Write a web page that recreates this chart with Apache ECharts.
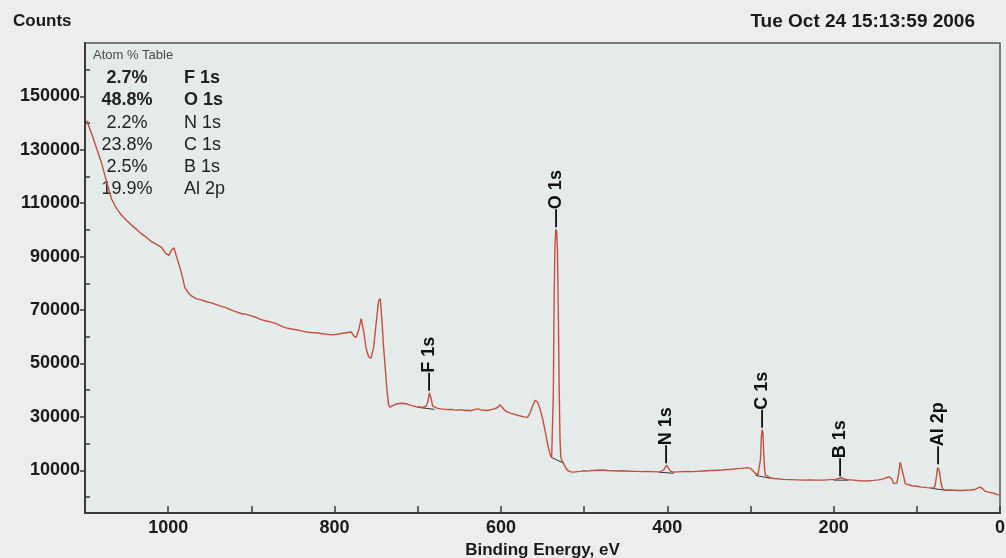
<!DOCTYPE html>
<html><head><meta charset="utf-8">
<script src="https://cdn.jsdelivr.net/npm/echarts@6/dist/echarts.min.js"></script>
<style>html,body{margin:0;padding:0;background:#eceeee;}#c{width:1006px;height:558px;}</style>
</head><body><div id="c"></div>
<script>
// Binding energy (eV) and counts of the survey spectrum
const energy = [1098,1092,1086,1080,1074,1068,1062,1056,1050,1044,1038,1032,1026,1020,1014,1008,1003,999,996,993,990,986,983,980,976,972,966,960,954,948,942,936,930,924,918,912,906,900,894,888,882,876,870,864,858,852,846,840,834,828,822,816,810,804,798,792,786,780,777,774,771,768,765,762,759,756,753,750,747,745,743,741,739,737,735,733,730,726,722,718,714,710,706,702,698,694,690,688,686,684,682,680,676,672,668,664,660,656,652,648,644,640,636,632,628,624,620,616,612,608,604,601,598,595,592,588,584,580,576,572,568,565,562,559,556,553,550,547,544,541,539,538,537,536,535,534,533,532,531,530,529,528,527,526,524,522,520,516,512,508,504,500,496,490,484,478,472,466,460,454,448,442,436,430,424,418,412,408,404,401,399,396,392,388,382,376,370,364,358,352,346,340,334,328,322,316,310,304,300,297,294,291,289,288,287,286,285,284,283,282,280,276,272,268,260,252,244,236,228,220,212,204,198,194,191,188,184,176,168,160,152,146,140,136,133,130,128,126,124,122,120,119,118,116,114,112,106,100,94,88,84,80,78,76,75,74,73,71,69,66,60,54,48,42,36,30,27,24,21,18,14,10,6,2,0];
const counts = [141000,136000,130500,125000,118000,111500,108000,105500,103500,101800,100200,98500,97200,95600,94600,93500,91200,90500,92500,93300,90000,86000,82500,78500,76500,75300,74200,73800,73100,72700,72000,71400,70800,70000,69300,68700,68400,67800,67200,66400,65900,65500,64900,64000,63300,62900,62600,62200,61800,61600,61500,61200,61000,60700,60900,61200,61500,61800,60300,59800,62500,66800,62000,55500,52500,52000,56000,65000,73500,74300,66000,56000,48000,40000,34500,33600,34200,34800,35000,35100,34900,34500,34100,33800,33700,33500,34000,35500,39000,37000,34000,33300,33200,33000,32900,32700,32800,32600,32500,32700,32400,32500,32300,32700,33000,32600,32500,32400,32700,33000,33500,34500,33400,32300,31800,31300,31000,30600,30300,30000,29800,31500,34000,36200,35500,33000,29500,25000,20000,16000,14800,15200,38000,75000,94000,100300,99500,92000,70000,42000,22000,15000,13900,13500,12000,11000,10000,9400,9300,9500,9600,9800,9700,9900,10000,10100,9900,9800,9700,9800,9700,9600,9600,9500,9600,9500,9400,9500,10200,11900,11200,9600,9300,9400,9500,9600,9500,9600,9700,9800,9900,10000,10100,10300,10400,10600,10700,11000,10700,9800,8800,8300,9000,14000,22000,25200,24000,16000,10500,8200,7600,7200,6900,6800,6600,6500,6400,6300,6400,6300,6300,6500,6600,6900,7300,6900,6500,6300,6100,6000,6200,6400,6800,7300,7500,6800,5000,4700,5200,8500,13000,13700,12500,8000,5000,4400,4200,4000,3700,3500,3400,3300,4200,8500,11000,11500,10000,5500,3000,2500,2600,2500,2400,2500,2600,2800,3300,3700,3100,2200,1800,1600,1200,800,700];

// Background (baseline) segments under each fitted peak
const baseStartE = [700,540,410,294,200,84];
const baseStartC = [33600,14900,9250,8100,6300,3300];
const baseEndE   = [680,524,392,276,182,62];
const baseEndC   = [32800,12600,8900,7000,6300,2400];

// Peak identification labels
const peakNames  = ['F 1s','O 1s','N 1s','C 1s','B 1s','Al 2p'];
const peakEnergy = [686,534,401,286,192,74];
const peakCounts = [39000,100300,11900,25200,7000,11500];

// Atom % table
const atomPct   = ['2.7%','48.8%','2.2%','23.8%','2.5%','19.9%'];
const atomNames = ['F 1s','O 1s','N 1s','C 1s','B 1s','Al 2p'];

// Axis ticks
const xLabelTicks = [0,200,400,600,800,1000];
const xAllTicks   = [0,100,200,300,400,500,600,700,800,900,1000,1100];
const yMajor = [10000,30000,50000,70000,90000,110000,130000,150000];
const yMinor = [0,20000,40000,60000,80000,100000,120000,140000,160000];

const FONT = '"Liberation Sans", Arial, sans-serif';
const spectrum = energy.map((e,i)=>[e,counts[i]]);
const baseline = [];
baseStartE.forEach((e,i)=>{ baseline.push([e,baseStartC[i]],[baseEndE[i],baseEndC[i]],[null,null]); });
const peaks = peakEnergy.map((e,i)=>({value:[e,peakCounts[i]], name:peakNames[i]}));

const tableGraphics = [{type:'text', x:93, y:55, style:{text:'Atom % Table', font:'13px '+FONT, fill:'#4a4a4a', verticalAlign:'middle'}}];
const rowY = [78,100,123,145,167,189];
atomPct.forEach((p,i)=>{
  const w = i<2 ? 'bold ' : '';
  tableGraphics.push({type:'text', x:127, y:rowY[i], style:{text:p, font:w+'18px '+FONT, fill:'#222', align:'center', verticalAlign:'middle'}});
  tableGraphics.push({type:'text', x:184, y:rowY[i], style:{text:atomNames[i], font:w+'18px '+FONT, fill:'#222', align:'left', verticalAlign:'middle'}});
});

const plain = v => String(v);
const chart = echarts.init(document.getElementById('c'));
chart.setOption({
  backgroundColor:'#eceeee',
  animation:false,
  grid:{left:85, right:6, top:43, bottom:45, outerBoundsMode:'none', containLabel:false, show:true, backgroundColor:'#e5eaea', borderColor:'#555', borderWidth:1.5},
  title:[
    {text:'Counts', left:8, top:8, textStyle:{fontFamily:FONT, fontSize:17, fontWeight:'bold', color:'#1a1a1a'}},
    {text:'Tue Oct 24 15:13:59 2006', right:26, top:7, textStyle:{fontFamily:FONT, fontSize:19, fontWeight:'bold', color:'#1a1a1a'}}
  ],
  graphic: tableGraphics,
  xAxis:{type:'value', inverse:true, min:0, max:1100,
    name:'Binding Energy, eV', nameLocation:'middle', nameGap:29,
    nameTextStyle:{fontFamily:FONT, fontSize:17, fontWeight:'bold', color:'#1a1a1a'},
    axisLine:{show:true, onZero:false, lineStyle:{color:'#3a3a3a', width:2}},
    axisTick:{show:true, inside:true, length:7, customValues:xAllTicks, lineStyle:{color:'#3a3a3a', width:1.5}},
    axisLabel:{customValues:xLabelTicks, formatter:plain, margin:6, fontFamily:FONT, fontSize:18, fontWeight:'bold', color:'#1a1a1a'},
    splitLine:{show:false}},
  yAxis:[
    {type:'value', min:-6000, max:170000, position:'left',
     axisLine:{show:true, onZero:false, lineStyle:{color:'#3a3a3a', width:2}},
     axisTick:{show:true, inside:false, length:5, customValues:yMajor, lineStyle:{color:'#3a3a3a', width:1.5}},
     axisLabel:{customValues:yMajor, formatter:plain, margin:5, fontFamily:FONT, fontSize:18, fontWeight:'bold', color:'#1a1a1a'},
     splitLine:{show:false}},
    {type:'value', min:-6000, max:170000, position:'left', offset:0,
     axisLine:{show:false, onZero:false},
     axisTick:{show:true, inside:true, length:5, customValues:yMinor, lineStyle:{color:'#3a3a3a', width:1.5}},
     axisLabel:{show:false}, splitLine:{show:false}}
  ],
  series:[
    {type:'line', data:spectrum, showSymbol:false, symbol:'none', lineStyle:{color:'#c4503c', width:1.4}, z:3},
    {type:'line', data:baseline, showSymbol:false, symbol:'none', connectNulls:false, lineStyle:{color:'#333', width:1}, z:2},
    {type:'scatter', data:peaks, symbolSize:0, z:4, itemStyle:{color:'#111', opacity:1},
     label:{show:true, position:'top', distance:2, rotate:90, align:'left', verticalAlign:'middle', opacity:1,
       textBorderWidth:0, formatter:p=>'\u2014' + p.name, fontFamily:FONT, fontSize:18, fontWeight:'bold', color:'#111'}}
  ]
});
</script></body></html>
